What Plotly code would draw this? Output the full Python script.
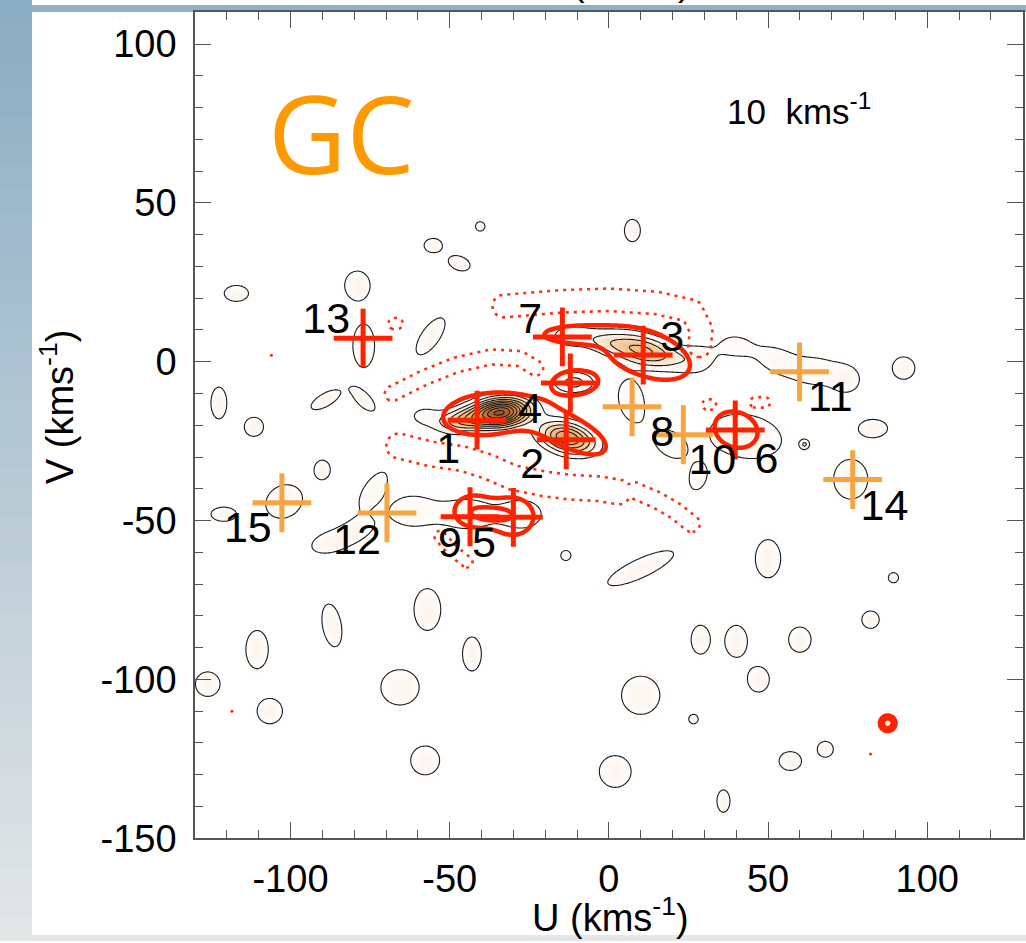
import numpy as np
import plotly.graph_objects as go

# ---------------- velocity grid (km/s) ----------------
U = np.arange(-130, 130.01, 0.5)
V = np.arange(-150, 110.01, 0.5)
UU, VV = np.meshgrid(U, V)

# ---------------- density components (U, V, sigma_U, sigma_V, amplitude, tilt deg) ----------------
dens_u = [-34, -46, -13, 11, -1, -12, -11, -58,
          28, 40, 52, 65, 75, 7, 19, 28, 43,
          76, 92.6, 83, 61.5, 89.4, 82.2,
          -55.2, -40.4, -47, 7.4, -117,
          -56, -89, -77, -111.5, -122.5, -90,
          -102, -121, -88, -74, -62, -44, -27, -13.5, -79,
          -79, -77,
          -110.5, -126, -106.5, -87, -57, -65.6, -43, -57.7,
          10, 10, 28.8, 40, 50, 26.6, 60, 47, 68, 57, 36, 2, 87.6]
dens_v = [-16, -18.5, -24, 3.5, 6, 8, -6.5, -17,
          1, 5, 1, -3, -6, -12, -26, -37, -23.5,
          -37, -2, -21, -26, -68, -81.2,
          36.6, 42.6, 31, 41.3, 21.5,
          8, -12, -12, -20.5, -13, -34,
          -44, -48, -57, -40, -47, -48, -48, -61, -53,
          24, 5,
          -90.6, -101.5, -110, -83, -78, -102.5, -92, -125.5,
          -65, -105, -87.5, -88, -62, -112.5, -87.5, -100, -122, -125.7, -138.3, -129, -113.8]
dens_su = [6.0, 5.5, 6.0, 8.0, 5.0, 5.0, 4.5, 4.0,
           5.0, 5.0, 5.0, 8.0, 3.5, 4.0, 6.0, 3.0, 10.0,
           4.7, 3.1, 4.0, 1.15, 1.4, 2.4,
           2.5, 1.3, 3.1, 2.2, 3.35,
           6.0, 4.5, 4.0, 2.65, 2.2, 2.2,
           5.3, 3.5, 5.5, 2.8, 7.0, 7.0, 5.5, 1.4, 5.0,
           3.5, 3.0,
           3.1, 3.4, 3.5, 2.6, 3.7, 5.3, 2.6, 4.0,
           10.0, 5.3, 2.6, 3.1, 3.5, 1.3, 3.1, 3.0, 2.2, 3.1, 1.8, 4.4, 2.2]
dens_sv = [3.0, 2.6, 3.2, 3.3, 2.5, 2.8, 2.4, 2.5,
           4.0, 3.5, 3.5, 4.5, 3.5, 6.5, 4.0, 4.5, 6.0,
           5.5, 3.1, 2.5, 1.15, 1.4, 2.4,
           1.95, 1.3, 1.95, 3.1, 2.2,
           2.5, 1.8, 1.8, 2.65, 4.4, 2.65,
           4.4, 1.95, 3.0, 6.5, 5.0, 4.5, 4.0, 1.4, 3.0,
           4.0, 6.0,
           5.3, 3.4, 3.5, 6.0, 5.8, 4.9, 4.7, 4.0,
           2.6, 5.3, 4.0, 4.4, 5.3, 1.3, 3.5, 3.5, 2.2, 2.6, 3.1, 4.4, 2.2]
dens_amp = [10, 3.5, 6, 4.2, 1.3, 1.6, 2.4, 1.3,
            1.3, 1.3, 1.25, 1.5, 1.2, 1.6, 1.4, 1.3, 1.9,
            1.9, 1.9, 1.9, 1.9, 1.9, 1.9,
            1.9, 1.9, 1.9, 1.9, 1.9,
            1.9, 1.9, 1.9, 1.9, 1.9, 1.9,
            1.9, 1.9, 1.6, 1.5, 1.5, 1.6, 1.7, 1.9, 1.3,
            1.9, 1.9,
            1.9, 1.9, 1.9, 1.9, 1.9, 1.9, 1.9, 1.9,
            1.9, 1.9, 1.9, 1.9, 1.9, 1.9, 1.9, 1.9, 1.9, 1.9, 1.9, 1.9, 2.0]
dens_th = [6, 8, -15, -15, -10, 0, 0, 0,
           0, -10, -20, -5, 0, 10, -40, -20, -10,
           0, 0, 0, 0, 0, 0,
           0, 0, -20, 0, 0,
           55, 30, -45, 0, 0, 0,
           30, 0, 15, -35, 0, 0, 0, 0, 20,
           0, 0,
           0, 0, 0, 10, 0, 0, 0, 0,
           25, 0, 0, 0, 0, 0, 0, 0, 0, 0, 0, 0, 0]

# ---------------- significance components (red solid contours) ----------------
red_u = [-38, -11, 12, -12, -10.5, -30, -43, -36.5, 40, 87.6]
red_v = [-16.5, -23, 2.5, 8.5, -6.5, -48.7, -47, -48, -21.5, -113.8]
red_su = [13.0, 10.0, 13.0, 8.0, 6.0, 5.8, 5.0, 3.0, 6.3, 1.6]
red_sv = [6.0, 4.2, 6.5, 2.2, 3.3, 5.3, 4.2, 1.5, 5.0, 1.6]
red_amp = [1.8, 1.8, 1.8, 1.6, 1.7, 1.8, 1.8, 1.1, 1.8, 3.2]
red_th = [5, -25, -20, 0, 0, 0, 0, 0, -20, 0]

# isolated significant pixels
spot_u = [-106, -118.4, 82.2]
spot_v = [2, -110, -123.5]

# ---------------- under-density ridges (red dotted contours) ----------------
dot_paths = [
    [(-33, 17.5), (-15, 19), (0, 19.5), (15, 18.5), (26, 16), (29, 10), (28.5, 5)],
    [(-68, -10), (-58, -5), (-48, -1), (-37, 1.5), (-28, 1), (-23, -2)],
    [(-66, -26.5), (-56, -29), (-46, -30.5), (-38, -33), (-30, -36.5), (-20, -38.5),
     (-12, -39.5), (-3, -40), (3, -41)],
    [(8, -40.5), (15, -43.5), (21, -47), (26, -51)],
    [(-53, -55), (-49, -59.5), (-44.6, -63)],
    [(31, -13.5), (32, -13.5)],
    [(46, -12.8), (49, -12.8)],
    [(-67.5, 12), (-66.5, 12)],
]
dot_width = [3.0, 2.0, 3.3, 2.2, 1.5, 1.4, 1.4, 1.5]

# ---------------- moving groups ----------------
grp_id = ['1', '2', '3', '4', '5', '6', '7', '8', '9', '10', '11', '12', '13', '14', '15']
grp_u = [-41.4, -13.4, 10.8, -12.1, -30, 39.7, -14.6, 7.3, -43.6, 23.4, 59.9, -69.7, -77.2, 76.6, -102.7]
grp_v = [-18.4, -24.6, 2.1, -6.7, -49, -21.5, 7.8, -14.2, -48.8, -23, -3.2, -47.6, 7.4, -37.1, -44.4]
grp_kind = ['red', 'red', 'red', 'red', 'red', 'red', 'red', 'orange', 'red', 'orange',
            'orange', 'orange', 'red', 'orange', 'orange']
lab_u = [-50.5, -24.1, 19.9, -24.7, -39.2, 49.5, -24.7, 16.8, -49.9, 32.5, 69.6, -79.1, -88.8, 86.6, -113.4]
lab_v = [-28.5, -33.1, 6.8, -15.8, -58.2, -31.6, 12.5, -23, -58.2, -31.9, -12, -57, 12.5, -46.6, -53.5]

x_ticks = [-100, -50, 0, 50, 100]
y_ticks = [-150, -100, -50, 0, 50, 100]


def gauss_sum(us, vs, sus, svs, amps, ths):
    z = np.zeros_like(UU)
    for u0, v0, su, sv, a, th in zip(us, vs, sus, svs, amps, ths):
        t = np.deg2rad(th)
        du, dv = UU - u0, VV - v0
        p = du * np.cos(t) + dv * np.sin(t)
        q = -du * np.sin(t) + dv * np.cos(t)
        z += a * np.exp(-0.5 * (p * p / su ** 2 + q * q / sv ** 2))
    return z


def ridge_field(paths, widths):
    z = np.zeros_like(UU)
    for pts, w in zip(paths, widths):
        d2 = np.full(UU.shape, np.inf)
        for (u1, v1), (u2, v2) in zip(pts[:-1], pts[1:]):
            du, dv = u2 - u1, v2 - v1
            L2 = du * du + dv * dv
            t = np.clip(((UU - u1) * du + (VV - v1) * dv) / L2, 0, 1)
            d2 = np.minimum(d2, (UU - u1 - t * du) ** 2 + (VV - v1 - t * dv) ** 2)
        z = np.maximum(z, np.exp(-0.5 * d2 / w ** 2))
    return z


dens = np.round(gauss_sum(dens_u, dens_v, dens_su, dens_sv, dens_amp, dens_th), 3)
sig = np.round(gauss_sum(red_u, red_v, red_su, red_sv, red_amp, red_th), 3)
ridge = np.round(ridge_field(dot_paths, dot_width), 3)

ZMAX = 13.0
cscale = [[0, '#ffffff'], [1 / ZMAX, '#fffefd'], [1.9 / ZMAX, '#fdf5ed'], [2.5 / ZMAX, '#fbe8d4'],
          [3 / ZMAX, '#f8d6b0'], [4 / ZMAX, '#f3bf89'], [6 / ZMAX, '#e89c5a'], [8 / ZMAX, '#cf7c3c'],
          [10 / ZMAX, '#a85a22'], [1, '#5a2a08']]

fig = go.Figure()
fig.add_trace(go.Contour(
    x=U, y=V, z=dens, zmin=0, zmax=ZMAX, colorscale=cscale, showscale=False,
    contours=dict(start=1, end=12, size=1, coloring='heatmap'),
    line=dict(color='#1a1a1a', width=1.1), hoverinfo='skip'))
fig.add_trace(go.Contour(
    x=U, y=V, z=ridge, showscale=False,
    contours=dict(start=0.5, end=0.5, size=1, coloring='none'),
    line=dict(color='#ff3010', width=2.6, dash='3px,5px'), hoverinfo='skip'))
fig.add_trace(go.Contour(
    x=U, y=V, z=sig, showscale=False,
    contours=dict(start=1, end=2, size=1, coloring='none'),
    line=dict(color='#ff2200', width=4.5), hoverinfo='skip'))
fig.add_trace(go.Scatter(
    x=spot_u, y=spot_v, mode='markers', marker=dict(size=3, color='#ff2200'), hoverinfo='skip'))

colors = {'red': '#ff2200', 'orange': '#f7a543'}
for kind in ['orange', 'red']:
    idx = [i for i, k in enumerate(grp_kind) if k == kind]
    fig.add_trace(go.Scatter(
        x=[grp_u[i] for i in idx], y=[grp_v[i] for i in idx], mode='markers',
        marker=dict(symbol='cross-thin', size=42, color=colors[kind],
                    line=dict(width=5, color=colors[kind])), hoverinfo='skip'))

fig.add_trace(go.Scatter(
    x=lab_u, y=lab_v, text=grp_id, mode='text',
    textfont=dict(family='Liberation Sans', size=43, color='black'), hoverinfo='skip'))

# ---------------- page geometry ----------------
# the page is laid out 962 px tall; positions below are given on a 943 px tall frame
W, H = 1026, 962
FRAME_H = 943


def px(x):
    return x / W


def py(y):
    return 1 - y / FRAME_H


shapes = []
n = 40
top_c = np.array([0x8b, 0xad, 0xc3])
bot_c = np.array([0xe3, 0xe6, 0xe7])
for i in range(n):
    c = top_c + (bot_c - top_c) * i / (n - 1)
    shapes.append(dict(type='rect', xref='paper', yref='paper', x0=0, x1=px(32),
                       y0=1 - (i + 1) / n, y1=1 - i / n + 0.001, line=dict(width=0),
                       fillcolor='rgb(%d,%d,%d)' % tuple(c), layer='below'))
shapes.append(dict(type='rect', xref='paper', yref='paper', x0=px(32), x1=1,
                   y0=py(12), y1=py(5), line=dict(width=0), fillcolor='#8fb0c5', layer='below'))
shapes.append(dict(type='rect', xref='paper', yref='paper', x0=0, x1=1,
                   y0=py(943), y1=py(937), line=dict(width=0), fillcolor='#e4e6e7', layer='below'))

axis_common = dict(showline=True, linecolor='#555555', linewidth=1.5, mirror='allticks',
                   ticks='inside', ticklen=16, tickwidth=1.3, tickcolor='#555555',
                   showgrid=False, zeroline=False,
                   tickfont=dict(family='Liberation Sans', size=38, color='black'),
                   minor=dict(ticks='inside', ticklen=8, tickwidth=1.2, tickcolor='#555555', dtick=10))

fig.update_layout(
    width=W, height=H, margin=dict(l=0, r=0, t=0, b=0),
    paper_bgcolor='white', plot_bgcolor='white', showlegend=False,
    shapes=shapes,
    xaxis=dict(range=[-130, 130], domain=[px(195), px(1022.7)],
               tickvals=x_ticks, ticktext=[str(t) for t in x_ticks],
               ticklabelstandoff=6, **axis_common),
    yaxis=dict(range=[-150, 110], domain=[py(840), py(12.3)],
               tickvals=y_ticks, ticktext=[str(t) for t in y_ticks],
               ticklabelstandoff=9, **axis_common),
    annotations=[
        dict(text='GC', x=-84, y=72, xref='x', yref='y', showarrow=False,
             font=dict(family='Open Sans', size=108, color='#fe9a00')),
        dict(text='10  kms<sup>-1</sup>', x=36.6, y=79.5, xref='x', yref='y', showarrow=False,
             xanchor='left', font=dict(family='Liberation Sans', size=35, color='black')),
        dict(text='V (kms<sup>-1</sup>)', x=px(57), y=py(408), xref='paper', yref='paper',
             xanchor='center', yanchor='middle',
             showarrow=False, textangle=-90, font=dict(family='Liberation Sans', size=38, color='black')),
        dict(text='U (kms<sup>-1</sup>)', x=px(610), y=py(917), xref='paper', yref='paper',
             xanchor='center', yanchor='middle',
             showarrow=False, font=dict(family='Liberation Sans', size=38, color='black')),
        dict(text='U (kms<sup>-1</sup>)', x=px(612), y=py(-21), xref='paper', yref='paper',
             xanchor='center', yanchor='middle',
             showarrow=False, font=dict(family='Liberation Sans', size=38, color='black')),
    ],
)

fig.write_html('out.html')
